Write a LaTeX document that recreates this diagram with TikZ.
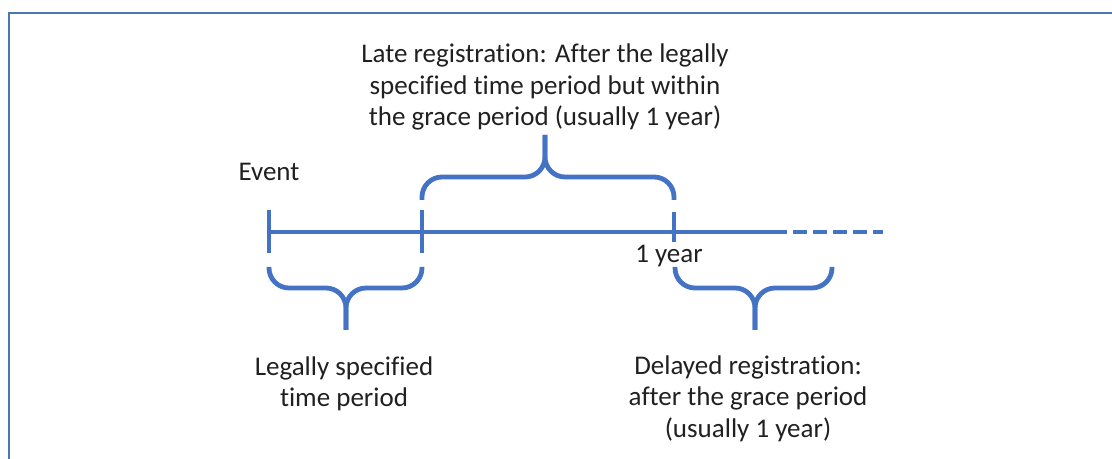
\documentclass[tikz,border=0pt]{standalone}
\usepackage{fontspec}
\setmainfont[Ligatures=NoCommon]{Carlito}
\usetikzlibrary{positioning, calc}
\definecolor{lineblue}{HTML}{4472C4}
\definecolor{framegray}{HTML}{4A78AE}
\definecolor{textgray}{HTML}{202020}

\begin{document}
\begin{tikzpicture}[x=0.5pt, y=-0.5pt, line width=2.4pt,
  tl/.style={draw=lineblue},
  brace/.style={draw=lineblue, rounded corners=10pt},
  lbl/.style={text=textgray, font=\fontsize{13.5}{15.75}\selectfont, align=center, inner sep=0pt}]
  \useasboundingbox (0,0) rectangle (1112,459);
  \draw[framegray, line width=1pt] (9,459) -- (9,13) -- (1112,13);

  % time line
  \coordinate (ev) at (269,232);
  \coordinate (lp) at (422,232);
  \coordinate (yr) at (674,232);
  \coordinate (sol) at (787,232);
  \coordinate (dend) at (883,232);
  \draw[tl] (ev) -- (sol);
  \draw[tl, dash pattern=on 7pt off 3pt, dash phase=7pt] (sol) -- (dend);
  \coordinate (evtop) at ($(ev)+(0,-22)$);
  \coordinate (yrbot) at ($(yr)+(0,10)$);
  \draw[tl] (evtop) -- ($(ev)+(0,21)$);
  \draw[tl] ($(lp)+(0,-22)$) -- ($(lp)+(0,21)$);
  \draw[tl] ($(yr)+(0,-20)$) -- (yrbot);

  % braces
  \coordinate (lsA) at (269,267); \coordinate (lsB) at (422,267);
  \coordinate (lsM) at (346,288); \coordinate (lsT) at (346,330);
  \coordinate (ltA) at (422,200); \coordinate (ltB) at (674,200);
  \coordinate (ltM) at (545,177); \coordinate (ltT) at (545,135);
  \coordinate (dlA) at (675,267); \coordinate (dlB) at (832,267);
  \coordinate (dlM) at (755,288); \coordinate (dlT) at (755,330);
  \foreach \b in {ls, lt, dl} {
    \draw[brace] (\b A) |- (\b M) -- (\b T);
    \draw[brace] (\b B) |- (\b M) -- (\b T);
  }

  % labels
  \node[lbl] (event) [above=13.5pt of evtop] {Event};
  \node[lbl] (year) [below=0.5pt of yrbot, xshift=-2.5pt] {1 year};
  \node[lbl] (late) [above=1pt of ltT] {Late registration: After the legally\\specified time period but within\\the grace period (usually 1 year)};
  \node[lbl] (legal) [below=12pt of lsT, xshift=-1pt] {Legally specified\\time period};
  \node[lbl] (delay) [below=11.5pt of dlT, xshift=-3.5pt] {Delayed registration:\\after the grace period\\(usually 1 year)};
\end{tikzpicture}
\end{document}
